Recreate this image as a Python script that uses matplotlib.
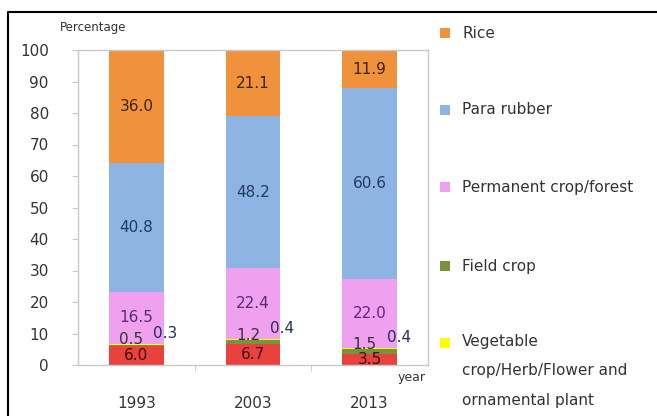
import matplotlib
matplotlib.use("Agg")
import matplotlib.pyplot as plt
from matplotlib.patches import Rectangle
from matplotlib.lines import Line2D
import numpy as np

years = ['1993', '2003', '2013']
other = [6.0, 6.7, 3.5]
field_crop = [0.5, 1.2, 1.5]
vegetable = [0.3, 0.4, 0.4]
permanent = [16.5, 22.4, 22.0]
para_rubber = [40.8, 48.2, 60.6]
rice = [36.0, 21.1, 11.9]

legend_labels = ['Rice', 'Para rubber', 'Permanent crop/forest', 'Field crop',
                 'Vegetable\ncrop/Herb/Flower and\nornamental plant']

c_red = '#E8413E'
c_green = '#77933C'
c_yellow = '#FFFF00'
c_pink = '#EFA0EF'
c_blue = '#8DB4E2'
c_orange = '#F0923B'

W, H = 657, 416
fig = plt.figure(figsize=(W / 100, H / 100), dpi=100)
fig.patch.set_facecolor('white')
ax = fig.add_axes([78 / W, 1 - 365 / H, 350 / W, 315 / H])

x = np.arange(len(years))
bw = 0.47
series = [(other, c_red, '#3a1010'), (field_crop, c_green, '#222222'),
          (vegetable, c_yellow, '#222222'), (permanent, c_pink, '#5a2a78'),
          (para_rubber, c_blue, '#1f3a63'), (rice, c_orange, '#3a2510')]
bottom = np.zeros(len(years))
containers = []
tops = []
for vals, col, tcol in series:
    b = ax.bar(x, vals, bw, bottom=bottom, color=col, edgecolor='none')
    containers.append((b, vals, tcol))
    bottom = bottom + np.array(vals)
    tops.append(bottom.copy())

# centered labels for main segments
for idx in [0, 3, 4, 5]:
    b, vals, tcol = containers[idx]
    ax.bar_label(b, labels=[f'{v:.1f}' for v in vals], label_type='center',
                 color=tcol, fontsize=11)

# small segment labels
for i in range(len(years)):
    ax.annotate(f'{field_crop[i]:.1f}', xy=(x[i], tops[1][i]), xytext=(-5, 5),
                textcoords='offset pixels', ha='center', va='center',
                fontsize=11, color='#333333')
    ax.annotate(f'{vegetable[i]:.1f}', xy=(x[i], tops[2][i]), xytext=(29, 10),
                textcoords='offset pixels', ha='center', va='center',
                fontsize=11, color='#23305a')

ax.set_xlim(-0.5, 2.5)
ax.set_ylim(0, 100)
ax.set_yticks(range(0, 101, 10))
ax.set_xticks(x)
ax.set_xticklabels(years)
ax.set_xticks([0.5, 1.5], minor=True)
for s in ax.spines.values():
    s.set_color('#c8c8c8')
    s.set_linewidth(1.0)
ax.tick_params(axis='y', length=4, color='#c8c8c8', labelsize=11,
               labelcolor='#333333', pad=17)
ax.tick_params(axis='x', which='major', length=0, labelsize=11,
               labelcolor='#333333', pad=22)
ax.tick_params(axis='x', which='minor', length=4, color='#c8c8c8')

fig.text(60 / W, 1 - 28 / H, 'Percentage', fontsize=8.5, color='#333333',
         ha='left', va='center')
fig.text(398 / W, 1 - 378 / H, 'year', fontsize=9, color='#333333',
         ha='left', va='center')

# legend
leg_cols = [c_orange, c_blue, c_pink, c_green, c_yellow]
leg_y = [33, 110, 187, 266, 343]
for lab, col, yy in zip(legend_labels, leg_cols, leg_y):
    fig.patches.append(Rectangle((440 / W, 1 - (yy + 5) / H), 10 / W, 10 / H,
                                 transform=fig.transFigure, facecolor=col,
                                 edgecolor='none'))
    if '\n' in lab:
        fig.text(462 / W, 1 - (yy - 9) / H, lab, fontsize=11, color='#333333',
                 ha='left', va='top', linespacing=2.2)
    else:
        fig.text(462 / W, 1 - yy / H, lab, fontsize=11, color='#333333',
                 ha='left', va='center')

# figure frame (left and top)
fig.lines.append(Line2D([8 / W, 8 / W, 1.0], [0.0, 1 - 12 / H, 1 - 12 / H],
                        transform=fig.transFigure, color='black', linewidth=1.5))

fig.savefig('out.png', dpi=100, facecolor='white')
